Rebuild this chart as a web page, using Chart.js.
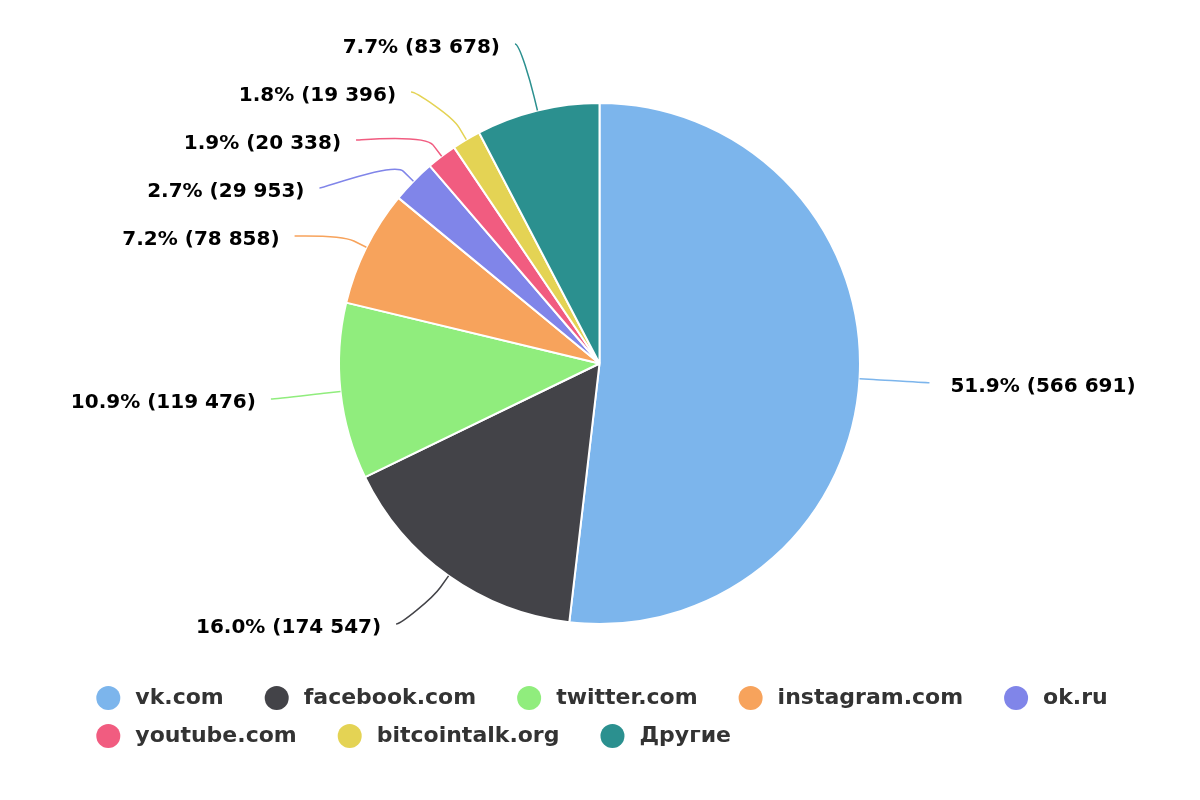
<!DOCTYPE html>
<html>
<head>
<meta charset="utf-8">
<title>Источники</title>
<script src="https://cdn.jsdelivr.net/npm/chart.js@4.4.1/dist/chart.umd.min.js"></script>
<style>
  html, body { margin: 0; padding: 0; background: #fff; }
  #wrap { width: 1200px; height: 800px; }
</style>
</head>
<body>
<div id="wrap"><canvas id="sourcesChart" width="1200" height="800"></canvas></div>
<script>
// источники
const sourceLabels = ['vk.com', 'facebook.com', 'twitter.com', 'instagram.com', 'ok.ru', 'youtube.com', 'bitcointalk.org', 'Другие'];
const sourceValues = [566691, 174547, 119476, 78858, 29953, 20338, 19396, 83678];
const sourceColors = ['#7cb5ec', '#434348', '#90ed7d', '#f7a35c', '#8085e9', '#f15c80', '#e4d354', '#2b908f'];

const labelFont = 'bold 20px "DejaVu Sans"';
const legendFont = 'bold 22px "DejaVu Sans"';

function formatNumber(n) {
    return String(n).replace(/\B(?=(\d{3})+(?!\d))/g, ' ');
}

// подписи по колонкам, без наложений (кластеры центрируются по среднему)
function distribute(items, minY, maxY, gap) {
    items.sort((a, b) => a.ny - b.ny);
    const clusters = items.map(it => ({ items: [it] }));
    const place = (c) => {
        const size = (c.items.length - 1) * gap;
        const mean = c.items.reduce((s, it) => s + it.ny, 0) / c.items.length;
        c.top = Math.min(Math.max(mean - size / 2, minY), maxY - size);
        c.bottom = c.top + size;
    };
    clusters.forEach(place);
    let merged = true;
    while (merged) {
        merged = false;
        for (let i = 0; i < clusters.length - 1; i++) {
            if (clusters[i].bottom + gap > clusters[i + 1].top) {
                clusters[i].items = clusters[i].items.concat(clusters[i + 1].items);
                clusters.splice(i + 1, 1);
                place(clusters[i]);
                merged = true;
                break;
            }
        }
    }
    clusters.forEach(c => c.items.forEach((it, k) => { it.y = c.top + k * gap; }));
}

const pieLabels = {
    id: 'pieLabels',
    afterDatasetsDraw(chart) {
        const ctx = chart.ctx;
        const meta = chart.getDatasetMeta(0);
        const data = chart.data.datasets[0].data;
        const colors = chart.data.datasets[0].backgroundColor;
        const total = data.reduce((a, b) => a + b, 0);
        const left = [], right = [];
        let cy = 0, r = 0;
        meta.data.forEach((arc, i) => {
            const mid = (arc.startAngle + arc.endAngle) / 2;
            cy = arc.y;
            r = arc.outerRadius;
            const R = arc.outerRadius + 70;
            const item = { i, mid, r, R, cx: arc.x, cy: arc.y, ny: arc.y + R * Math.sin(mid), left: Math.cos(mid) < 0 };
            (item.left ? left : right).push(item);
        });
        [left, right].forEach(side => distribute(side, cy - r - 59, cy + r, 48));

        ctx.save();
        ctx.font = labelFont;
        ctx.textBaseline = 'middle';
        left.concat(right).forEach(it => {
            const dy = it.y - it.cy;
            const dx = Math.sqrt(Math.max(it.R * it.R - dy * dy, 0));
            const ex = it.cx + (it.left ? -dx : dx);
            const tx = it.cx + it.r * Math.cos(it.mid);
            const ty = it.cy + it.r * Math.sin(it.mid);
            const bx = it.cx + (it.r + 14) * Math.cos(it.mid);
            const by = it.cy + (it.r + 14) * Math.sin(it.mid);

            ctx.strokeStyle = colors[it.i];
            ctx.lineWidth = 1.5;
            ctx.beginPath();
            ctx.moveTo(ex, it.y);
            ctx.bezierCurveTo(ex + (it.left ? 5 : -5), it.y, 2 * bx - tx, 2 * by - ty, bx, by);
            ctx.lineTo(tx, ty);
            ctx.stroke();

            const pct = (data[it.i] / total * 100).toFixed(1);
            ctx.fillStyle = '#000000';
            ctx.textAlign = it.left ? 'right' : 'left';
            ctx.fillText(pct + '% (' + formatNumber(data[it.i]) + ')', ex + (it.left ? -15 : 21), it.y + 4);
        });
        ctx.restore();
    }
};

// легенда снизу: строки выровнены влево внутри центрированного блока
const bottomLegend = {
    id: 'bottomLegend',
    afterDraw(chart) {
        const ctx = chart.ctx;
        const colors = chart.data.datasets[0].backgroundColor;
        ctx.save();
        ctx.font = legendFont;
        const items = chart.data.labels.map((text, i) => ({ text, color: colors[i], w: 39 + ctx.measureText(text).width }));
        const maxW = chart.width - 80;
        const gap = 41;
        const rows = [[]];
        let rowW = 0;
        items.forEach(it => {
            const row = rows[rows.length - 1];
            const need = row.length ? rowW + gap + it.w : it.w;
            if (row.length && need > maxW) {
                rows.push([it]);
                rowW = it.w;
            } else {
                row.push(it);
                rowW = need;
            }
        });
        const widths = rows.map(r => r.reduce((s, it) => s + it.w, 0) + gap * (r.length - 1));
        const x0 = (chart.width - Math.max(...widths)) / 2 + 2;
        let y = 698;
        rows.forEach(row => {
            let x = x0;
            row.forEach(it => {
                ctx.fillStyle = it.color;
                ctx.beginPath();
                ctx.arc(x + 12, y, 12, 0, Math.PI * 2);
                ctx.fill();
                ctx.fillStyle = '#333333';
                ctx.textAlign = 'left';
                ctx.textBaseline = 'middle';
                ctx.fillText(it.text, x + 39, y);
                x += it.w + gap;
            });
            y += 38;
        });
        ctx.restore();
    }
};

const ctxSources = document.getElementById('sourcesChart').getContext('2d');
new Chart(ctxSources, {
    type: 'pie',
    data: {
        labels: sourceLabels,
        datasets: [{
            data: sourceValues,
            backgroundColor: sourceColors,
            borderColor: '#ffffff',
            borderWidth: 2,
            hoverOffset: 0
        }]
    },
    options: {
        responsive: false,
        animation: false,
        layout: {
            padding: { top: 102, bottom: 175, left: 0, right: 1 }
        },
        plugins: {
            legend: { display: false },
            tooltip: { enabled: false }
        }
    },
    plugins: [pieLabels, bottomLegend]
});
</script>
</body>
</html>
